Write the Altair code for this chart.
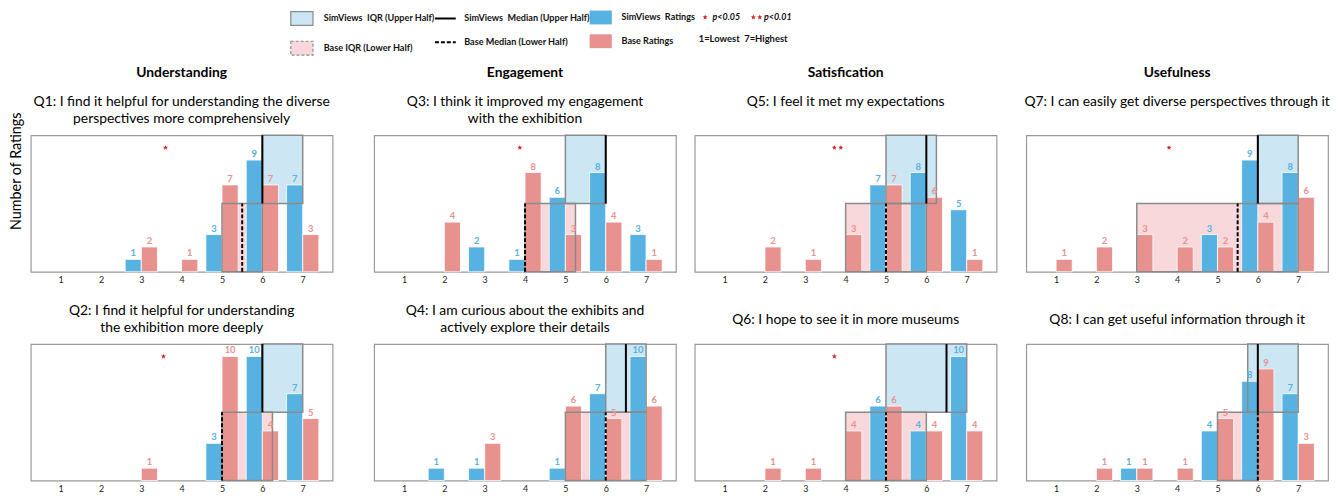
import math
import altair as alt
import numpy as np
import pandas as pd

# ---------------- data ----------------
ratings = [1, 2, 3, 4, 5, 6, 7]
headers = ["Understanding", "Engagement", "Satisfication", "Usefulness"]
titles = [
    ["Q1: I find it helpful for understanding the diverse", "perspectives more comprehensively"],
    ["Q2: I find it helpful for understanding", "the exhibition more deeply"],
    ["Q3: I think it improved my engagement", "with the exhibition"],
    ["Q4: I am curious about the exhibits and", "actively explore their details"],
    ["Q5: I feel it met my expectations"],
    ["Q6: I hope to see it in more museums"],
    ["Q7: I can easily get diverse perspectives through it"],
    ["Q8: I can get useful information through it"],
]
sim_counts = [
    [0, 0, 1, 0, 3, 9, 7],
    [0, 0, 0, 0, 3, 10, 7],
    [0, 0, 2, 1, 6, 8, 3],
    [0, 1, 1, 0, 1, 7, 10],
    [0, 0, 0, 0, 7, 8, 5],
    [0, 0, 0, 0, 6, 4, 10],
    [0, 0, 0, 0, 3, 9, 8],
    [0, 0, 1, 0, 4, 8, 7],
]
base_counts = [
    [0, 0, 2, 1, 7, 7, 3],
    [0, 0, 1, 0, 10, 4, 5],
    [0, 4, 0, 8, 3, 4, 1],
    [0, 0, 3, 0, 6, 5, 6],
    [0, 2, 1, 3, 7, 6, 1],
    [0, 1, 1, 4, 6, 4, 4],
    [1, 2, 3, 2, 2, 4, 6],
    [0, 1, 1, 1, 5, 9, 3],
]
significance = ["p<0.05", "p<0.05", "p<0.05", None, "p<0.01", "p<0.05", "p<0.05", None]
star_x = [3.6, 3.55, 3.87, None, 3.8, 3.72, 3.8, None]
star_y = 10
y_title = "Number of Ratings"

# ---------------- labels / styles ----------------
SIM_IQR = "SimViews\u00a0 IQR (Upper Half)"
BASE_IQR = "Base IQR (Lower Half)"
SIM_MED = "SimViews\u00a0 Median (Upper Half)"
BASE_MED = "Base Median (Lower Half)"
SIM_BAR = "SimViews\u00a0 Ratings"
BASE_BAR = "Base Ratings"
SIG = ["p<0.05", "p<0.01"]
SCALE_NOTE = "1=Lowest\u00a0 7=Highest"

BLUE = "#58B2E1"
PINKRED = "#E8928F"
IQR_BLUE = "#CCE6F4"
IQR_PINK = "#F8D8DA"
GREY = "#8a8a8a"
STAR_RED = "#D0282E"
FONT = "Lato"
YMAX = 11
BAR_W = 0.4
PW, PH = 305, 138


def star_path(cx, cy, R, r):
    pts = []
    for k in range(10):
        ang = -math.pi / 2 + k * math.pi / 5
        rad = R if k % 2 == 0 else r
        pts.append((cx + rad * math.cos(ang), cy + rad * math.sin(ang)))
    return "M" + "L".join(f"{x:.3f},{y:.3f}" for x, y in pts) + "Z"


STAR1 = star_path(0, 0, 0.42, 0.18)
STAR2 = star_path(-0.5, 0, 0.42, 0.18) + star_path(0.5, 0, 0.42, 0.18)
RECT_PATH = "M-1.6,-1H1.6V1H-1.6Z"

XS = alt.Scale(domain=[0.26, 7.74], nice=False, zero=False)
YS = alt.Scale(domain=[0, YMAX], nice=False)
XAX = alt.Axis(values=ratings, format="d", title=None, ticks=False, domain=False, grid=False,
               labelFontSize=9, labelPadding=4, labelColor="#222", labelFont=FONT)

LEGY = -126
LFS = 9.2
common = dict(title=None, orient="none", labelFont=FONT, labelFontSize=LFS,
              labelFontWeight="bold", labelColor="#111", rowPadding=10, direction="vertical")

iqr_leg = alt.Legend(**common, legendX=266, legendY=LEGY, symbolType=RECT_PATH, symbolSize=196,
                     symbolStrokeWidth=1.2, symbolStrokeColor=GREY, labelOffset=14,
                     symbolDash={"expr": f"datum.value === '{BASE_IQR}' ? [3, 2] : [1, 0]"})
med_leg = alt.Legend(**common, legendX=411, legendY=LEGY, symbolType="M-1.5,0H1.5", symbolSize=196,
                     symbolStrokeColor="black", symbolStrokeWidth=2, symbolFillColor="transparent",
                     labelOffset=11)
bar_leg = alt.Legend(**common, legendX=569, legendY=LEGY, symbolType=RECT_PATH, symbolSize=196,
                     symbolStrokeWidth=0, labelOffset=14)
sig_leg = alt.Legend(title=SCALE_NOTE, titleOrient="bottom", titleAnchor="start",
                     titleFont=FONT, titleFontSize=9.5, titleFontWeight="bold", titleColor="#111",
                     titlePadding=12, orient="none", legendX=675, legendY=LEGY, direction="horizontal",
                     symbolSize=169, symbolFillColor=STAR_RED, symbolStrokeWidth=0, labelOffset=1,
                     columnPadding=10, labelFont=FONT, labelFontSize=9, labelFontStyle="italic",
                     labelFontWeight="bold", labelColor="#111")

fill_scale = alt.Scale(domain=[SIM_IQR, BASE_IQR], range=[IQR_BLUE, IQR_PINK])
dash_scale = alt.Scale(domain=[SIM_MED, BASE_MED], range=[[1, 0], [4, 2]])
color_scale = alt.Scale(domain=[SIM_BAR, BASE_BAR], range=[BLUE, PINKRED])
shape_scale = alt.Scale(domain=SIG, range=[STAR1, STAR2])


def panel(i, top):
    sim, base = sim_counts[i], base_counts[i]
    rows = []
    for r, c in zip(ratings, sim):
        if c:
            rows.append(dict(x=r - BAR_W, x2=r, xc=r - BAR_W / 2, n=c, grp=SIM_BAR))
    for r, c in zip(ratings, base):
        if c:
            rows.append(dict(x=r, x2=r + BAR_W, xc=r + BAR_W / 2, n=c, grp=BASE_BAR))
    bars_df = pd.DataFrame(rows)
    sv = np.repeat(ratings, sim)
    bv = np.repeat(ratings, base)
    sq1, smed, sq3 = np.percentile(sv, [25, 50, 75])
    bq1, bmed, bq3 = np.percentile(bv, [25, 50, 75])
    box_df = pd.DataFrame([
        dict(x=sq1, x2=sq3, y=YMAX / 2, y2=YMAX, iqr=SIM_IQR, g="sim"),
        dict(x=bq1, x2=bq3, y=0, y2=YMAX / 2, iqr=BASE_IQR, g="base"),
    ])
    med_df = pd.DataFrame([
        dict(x=smed, y=YMAX / 2, y2=YMAX, med=SIM_MED),
        dict(x=bmed, y=0, y2=YMAX / 2, med=BASE_MED),
    ])

    col = i // 2
    X = lambda f: alt.X(f, scale=XS, axis=XAX)
    Y = lambda f: alt.Y(f, scale=YS, axis=None)

    box_fill = alt.Chart(box_df).mark_rect(strokeWidth=0).encode(
        x=X("x:Q"), x2="x2:Q", y=Y("y:Q"), y2="y2:Q",
        fill=alt.Fill("iqr:N", scale=fill_scale, legend=iqr_leg))
    bars = alt.Chart(bars_df).mark_rect(stroke="white", strokeWidth=0.8).encode(
        x=X("x:Q"), x2="x2:Q", y=Y("n:Q"), y2=alt.datum(0),
        color=alt.Color("grp:N", scale=color_scale, legend=bar_leg))
    labels = alt.Chart(bars_df).mark_text(baseline="bottom", dy=-1, fontSize=9.5, fontWeight="bold",
                                          font=FONT).encode(
        x=X("xc:Q"), y=Y("n:Q"), text="n:Q",
        color=alt.Color("grp:N", scale=color_scale, legend=bar_leg))
    box_line = alt.Chart(box_df).mark_rect(fillOpacity=0, stroke=GREY, strokeWidth=1.5).encode(
        x=X("x:Q"), x2="x2:Q", y=Y("y:Q"), y2="y2:Q",
        strokeDash=alt.condition("datum.g == 'base'", alt.value([4, 3]), alt.value([1, 0])))
    meds = alt.Chart(med_df).mark_rule(color="black", strokeWidth=2).encode(
        x=X("x:Q"), y=Y("y:Q"), y2="y2:Q",
        strokeDash=alt.StrokeDash("med:N", scale=dash_scale, legend=med_leg))
    layers = [box_fill, bars, box_line, meds, labels]
    if significance[i]:
        sdf = pd.DataFrame([dict(x=star_x[i], y=star_y, sig=significance[i])])
        star = alt.Chart(sdf).mark_point(filled=True, color=STAR_RED, size=169, opacity=1,
                                         strokeWidth=0).encode(
            x=X("x:Q"), y=Y("y:Q"),
            shape=alt.Shape("sig:N", scale=shape_scale, legend=sig_leg))
        layers.append(star)

    lines = titles[i]
    if top:
        sub = lines if len(lines) == 2 else [lines[0], " "]
        t = alt.TitleParams(text=headers[col], subtitle=sub, font=FONT, fontSize=14, fontWeight="bold",
                            color="black", subtitleFont=FONT, subtitleFontSize=14, subtitleColor="black",
                            subtitleLineHeight=18, subtitlePadding=15, anchor="middle", frame="group",
                            offset=8)
    else:
        if len(lines) == 2:
            txt, lh = lines, 17.5
        else:
            txt, lh = [" ", lines[0], " "], 8.75
        t = alt.TitleParams(text=txt, font=FONT, fontSize=14, fontWeight="normal", color="black",
                            lineHeight=lh, anchor="middle", frame="group", offset=8)
    return alt.layer(*layers).properties(width=PW, height=PH, title=t)


cols = [alt.vconcat(panel(2 * c, True), panel(2 * c + 1, False), spacing=17) for c in range(4)]
chart = alt.hconcat(
    alt.hconcat(cols[0], cols[1], spacing=40),
    alt.hconcat(cols[2], cols[3], spacing=26),
    spacing=17,
).properties(
    padding=0,
    title=alt.TitleParams(text=y_title, orient="left", anchor="end", frame="group", font=FONT,
                          fontSize=14.5, fontWeight="normal", color="black", offset=6, dx=23),
).configure(font=FONT).configure_view(stroke="#999", strokeWidth=1.2)

chart.save("out.html", embed_options={"renderer": "svg", "actions": False})
